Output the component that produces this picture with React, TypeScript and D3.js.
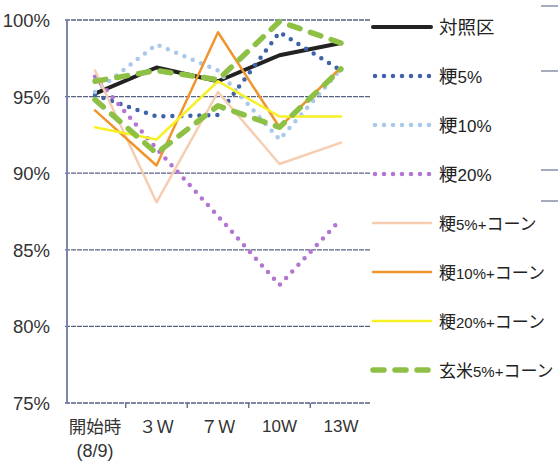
import React from "react";
import * as d3 from "d3";

// Weekly survival rate (%) by feed mix
const categories = ["開始時", "３Ｗ", "７Ｗ", "10W", "13W"];
const yTicks = [75, 80, 85, 90, 95, 100];

const control = [95.2, 96.9, 96.0, 97.7, 98.5];
const momi5 = [95.1, 93.7, 93.8, 99.2, 96.7];
const momi10 = [95.3, 98.4, 96.7, 92.2, 96.8];
const momi20 = [96.3, 91.6, 87.2, 82.7, 87.0];
const momi5corn = [96.7, 88.1, 95.3, 90.6, 92.0];
const momi10corn = [94.1, 90.5, 99.2, 93.0, 96.9];
const momi20corn = [93.0, 92.2, 96.0, 93.7, 93.7];
const genmai5corn = [96.0, 96.7, 96.1, 99.9, 98.5];
const genmai5cornB = [94.8, 91.3, 94.4, 93.0, 96.8];

// legend labels split into [kanji prefix, numeric part, kana suffix]
const seriesNames: [string, string, string][] = [
  ["対照区", "", ""],
  ["粳", "5%", ""],
  ["粳", "10%", ""],
  ["粳", "20%", ""],
  ["粳", "5%+", "コーン"],
  ["粳", "10%+", "コーン"],
  ["粳", "20%+", "コーン"],
  ["玄米", "5%+", "コーン"],
];

type Style = { color: string; width: number; dash?: string };

const styles: Style[] = [
  { color: "#222222", width: 4 },
  { color: "#3f62a8", width: 4.5, dash: "0 9" },
  { color: "#a9c9ec", width: 4.5, dash: "0 9" },
  { color: "#b375d2", width: 4.5, dash: "0 9" },
  { color: "#f6cdb0", width: 2.5 },
  { color: "#f0952e", width: 2.5 },
  { color: "#f6f024", width: 2.5 },
  { color: "#8dc045", width: 5.5, dash: "11 11" },
];

const lineData: { values: number[]; style: number }[] = [
  { values: control, style: 0 },
  { values: momi5, style: 1 },
  { values: momi10, style: 2 },
  { values: momi20, style: 3 },
  { values: momi5corn, style: 4 },
  { values: momi10corn, style: 5 },
  { values: momi20corn, style: 6 },
  { values: genmai5cornB, style: 7 },
  { values: genmai5corn, style: 7 },
];

const W = 558;
const H = 462;
const plotLeft = 67;
const plotRight = 371;
const plotTop = 20;
const plotBottom = 403;

const x = d3.scalePoint<string>().domain(categories).range([95, 341]);
const y = d3.scaleLinear().domain([75, 100]).range([plotBottom, plotTop]);

const lineGen = d3
  .line<number>()
  .x((_, i) => x(categories[i]) as number)
  .y((d) => y(d));

const jp = "'Noto Sans CJK JP', 'Noto Sans', sans-serif";
const latin = "'Liberation Sans', Arial, sans-serif";

export default function App() {
  const step = x.step();
  const tickXs = categories.slice(1).map((c) => (x(c) as number) - step / 2);

  return (
    <svg
      width={W}
      height={H}
      viewBox={`0 0 ${W} ${H}`}
      style={{ position: "absolute", left: 0, top: 0, background: "#ffffff" }}
    >
      {/* horizontal grid */}
      {yTicks.map((t) => (
        <line
          key={t}
          x1={plotLeft - 2}
          x2={plotRight}
          y1={y(t)}
          y2={y(t)}
          stroke="#5a6282"
          strokeWidth={1.3}
          strokeDasharray="5 1"
        />
      ))}
      {/* y axis */}
      <line
        x1={plotLeft}
        x2={plotLeft}
        y1={plotTop}
        y2={plotBottom}
        stroke="#7d85ad"
        strokeWidth={2}
      />
      {/* x ticks */}
      {tickXs.map((tx, i) => (
        <line
          key={i}
          x1={tx}
          x2={tx}
          y1={plotBottom}
          y2={plotBottom + 5}
          stroke="#5a6282"
          strokeWidth={1.3}
        />
      ))}

      {/* y labels */}
      {yTicks.map((t) => (
        <text
          key={t}
          x={50}
          y={y(t) + 7}
          textAnchor="end"
          fontFamily={latin}
          fontSize={18.5}
          fill="#333"
        >
          {t}%
        </text>
      ))}

      {/* x labels */}
      {categories.map((c, i) => {
        const cx = x(c) as number;
        const narrow = i >= 3;
        return (
          <text
            key={c}
            x={cx}
            y={narrow ? 432 : 433}
            textAnchor="middle"
            fontFamily={narrow ? latin : jp}
            fontSize={narrow ? 17 : 17.5}
            fill="#333"
          >
            {c}
          </text>
        );
      })}
      <text
        x={x(categories[0]) as number}
        y={457}
        textAnchor="middle"
        fontFamily={latin}
        fontSize={18}
        fill="#333"
      >
        (8/9)
      </text>

      {/* series */}
      {lineData.map((s, i) => {
        const st = styles[s.style];
        return (
          <path
            key={i}
            d={lineGen(s.values) ?? undefined}
            fill="none"
            stroke={st.color}
            strokeWidth={st.width}
            strokeDasharray={st.dash}
            strokeLinecap="round"
            strokeLinejoin="round"
          />
        );
      })}

      {/* legend */}
      {seriesNames.map(([pre, mid, post], i) => {
        const st = styles[i];
        const ly = 27 + i * 49;
        return (
          <g key={i}>
            <line
              x1={st.dash === "0 9" ? 375 : 373}
              x2={431}
              y1={ly}
              y2={ly}
              stroke={st.color}
              strokeWidth={st.width}
              strokeDasharray={st.dash}
              strokeLinecap="round"
            />
            <text x={439} y={ly + 6.5} fontFamily={jp} fill="#222">
              <tspan fontSize={post ? 17 : 18.5}>{pre}</tspan>
              {mid && (
                <tspan fontSize={post ? 15 : 17} fontFamily={latin}>
                  {mid}
                </tspan>
              )}
              {post && <tspan fontSize={17}>{post}</tspan>}
            </text>
          </g>
        );
      })}

      {/* edge of the neighbouring panel */}
      {[6, 71, 170, 201].map((ly) => (
        <line
          key={ly}
          x1={541}
          x2={558}
          y1={ly}
          y2={ly}
          stroke="#6a7296"
          strokeWidth={1.2}
        />
      ))}
    </svg>
  );
}
